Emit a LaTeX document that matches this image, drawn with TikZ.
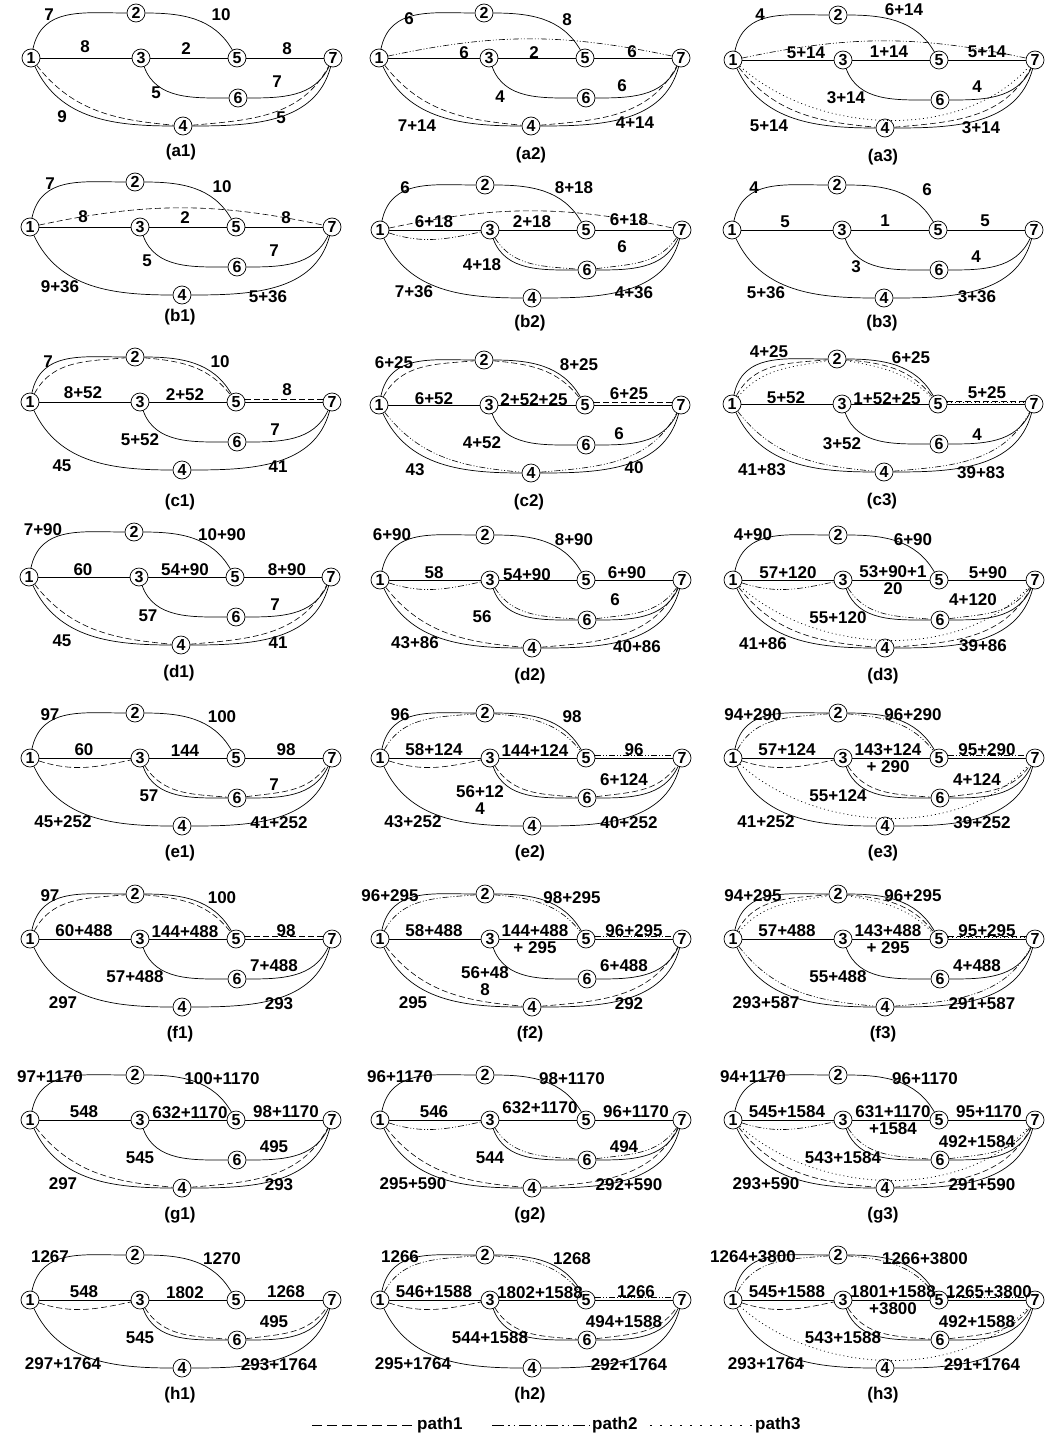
\documentclass[tikz,border=0pt]{standalone}
\usepackage{fontspec}
\setmainfont{Liberation Sans}
\begin{document}
\tikzset{
 vtx/.style={circle,draw,line width=0.7pt,minimum size=18pt,inner sep=0pt,font=\fontsize{16}{16}\selectfont\bfseries},
 lab/.style={font=\fontsize{17}{17}\selectfont\bfseries,inner sep=0pt,align=center},
 ptitle/.style={font=\fontsize{17}{17}\selectfont\bfseries,inner sep=0pt},
 edge/.style={line width=0.7pt},
 pa/.style={dash pattern=on 6pt off 3pt,line width=0.6pt},
 pb/.style={dash pattern=on 6pt off 2pt on 1pt off 2pt on 1pt off 2pt,line width=0.6pt},
 pc/.style={dash pattern=on 1pt off 3pt,line width=0.7pt},
 lga/.style={dash pattern=on 10pt off 5pt,line width=0.8pt},
 lgb/.style={dash pattern=on 12pt off 4pt on 1.5pt off 4pt on 1.5pt off 4pt,line width=0.8pt},
 lgc/.style={dash pattern=on 1.5pt off 8.5pt,line width=0.8pt},
}
\newcommand\basegraph[1]{%
 \node[vtx] (#1-1) at (0,0) {1};
 \node[vtx] (#1-2) at (105,45) {2};
 \node[vtx] (#1-3) at (110,0) {3};
 \node[vtx] (#1-5) at (206,0) {5};
 \node[vtx] (#1-7) at (302,0) {7};
 \node[vtx] (#1-6) at (207,-40) {6};
 \node[vtx] (#1-4) at (152,-68) {4};
 \draw[edge] (#1-1) to[out=78,in=180,looseness=1.1] (#1-2);
 \draw[edge] (#1-2) to[out=0,in=120] (#1-5);
 \draw[edge] (#1-1) -- (#1-3);
 \draw[edge] (#1-3) -- (#1-5);
 \draw[edge] (#1-5) -- (#1-7);
 \draw[edge] (#1-3) to[out=-70,in=180] (#1-6);
 \draw[edge] (#1-6) to[out=0,in=-115] (#1-7);
 \draw[edge] (#1-1) to[out=-65,in=180] (#1-4);
 \draw[edge] (#1-4) to[out=0,in=-105] (#1-7);
}
\newcommand\arcpath[2]{\draw[#1] (#2-1) to[out=12,in=168] (#2-7);}
\newcommand\toppath[2]{\draw[#1] (#2-1) to[out=62,in=185] (#2-2) to[out=-5,in=128] (#2-5); \draw[#1] ([yshift=3pt]#2-5.east) -- ([yshift=3pt]#2-7.west);}
\newcommand\toppathb[2]{\draw[#1] (#2-1) to[out=50,in=190] (#2-2) to[out=-10,in=135] (#2-5); \draw[#1] ([yshift=1.5pt]#2-5.east) -- ([yshift=1.5pt]#2-7.west);}
\newcommand\botpath[2]{\draw[#1] (#2-1) to[out=-52,in=175] (#2-4) to[out=5,in=-118] (#2-7);}
\newcommand\botpathb[2]{\draw[#1] (#2-1) to[out=-42,in=-132,looseness=0.9] (#2-7);}
\newcommand\midpath[2]{\draw[#1] (#2-1) to[out=-18,in=192] (#2-3) to[out=-58,in=175] (#2-6) to[out=8,in=-125] (#2-7);}
\begin{tikzpicture}[x=1pt,y=1pt]
\useasboundingbox (0,0) rectangle (1056,-1437);
% ---------------- row a
\begin{scope}[shift={(31,-58)}]
\basegraph{a1}
\node[lab] (a1-l12) at (18,43) {7};
\node[lab] (a1-l25) at (190,43) {10};
\node[lab] (a1-l13) at (54,11) {8};
\node[lab] (a1-l35) at (155,9) {2};
\node[lab] (a1-l57) at (256,9) {8};
\node[lab] (a1-l67) at (246,-24) {7};
\node[lab] (a1-l36) at (125,-35) {5};
\node[lab] (a1-l14) at (31,-59) {9};
\node[lab] (a1-l47) at (250,-60) {5};
\node[ptitle] (a1-t) at (150,-94) {(a1)};
\botpath{pa}{a1}
\end{scope}
\begin{scope}[shift={(379,-58)}]
\basegraph{a2}
\node[lab] (a2-l12) at (30,39) {6};
\node[lab] (a2-l25) at (188,38) {8};
\node[lab] (a2-l13) at (85,5) {6};
\node[lab] (a2-l35) at (155,5) {2};
\node[lab] (a2-l57) at (253,6) {6};
\node[lab] (a2-l67) at (243,-28) {6};
\node[lab] (a2-l36) at (121,-39) {4};
\node[lab] (a2-l14) at (38,-68) {7+14};
\node[lab] (a2-l47) at (256,-65) {4+14};
\node[ptitle] (a2-t) at (152,-97) {(a2)};
\arcpath{pb}{a2}
\botpath{pa}{a2}
\end{scope}
\begin{scope}[shift={(733,-60)}]
\basegraph{a3}
\node[lab] (a3-l12) at (27,45) {4};
\node[lab] (a3-l25) at (171,50) {6+14};
\node[lab] (a3-l13) at (73,7) {5+14};
\node[lab] (a3-l35) at (156,8) {1+14};
\node[lab] (a3-l57) at (254,8) {5+14};
\node[lab] (a3-l67) at (244,-27) {4};
\node[lab] (a3-l36) at (113,-38) {3+14};
\node[lab] (a3-l14) at (36,-66) {5+14};
\node[lab] (a3-l47) at (248,-68) {3+14};
\node[ptitle] (a3-t) at (150,-97) {(a3)};
\arcpath{pb}{a3}
\botpath{pa}{a3}
\botpathb{pc}{a3}
\end{scope}
% ---------------- row b
\begin{scope}[shift={(30,-227)}]
\basegraph{b1}
\node[lab] (b1-l12) at (20,43) {7};
\node[lab] (b1-l25) at (192,40) {10};
\node[lab] (b1-l13) at (53,10) {8};
\node[lab] (b1-l35) at (155,9) {2};
\node[lab] (b1-l57) at (256,9) {8};
\node[lab] (b1-l67) at (244,-24) {7};
\node[lab] (b1-l36) at (117,-34) {5};
\node[lab] (b1-l14) at (30,-60) {9+36};
\node[lab] (b1-l47) at (238,-70) {5+36};
\node[ptitle] (b1-t) at (150,-90) {(b1)};
\arcpath{pa}{b1}
\end{scope}
\begin{scope}[shift={(380,-230)}]
\basegraph{b2}
\node[lab] (b2-l12) at (25,42) {6};
\node[lab] (b2-l25) at (194,42) {8+18};
\node[lab] (b2-l13) at (54,8) {6+18};
\node[lab] (b2-l35) at (152,8) {2+18};
\node[lab] (b2-l57) at (249,10) {6+18};
\node[lab] (b2-l67) at (242,-17) {6};
\node[lab] (b2-l36) at (102,-35) {4+18};
\node[lab] (b2-l14) at (34,-62) {7+36};
\node[lab] (b2-l47) at (254,-63) {4+36};
\node[ptitle] (b2-t) at (150,-93) {(b2)};
\arcpath{pa}{b2}
\midpath{pb}{b2}
\end{scope}
\begin{scope}[shift={(732,-230)}]
\basegraph{b3}
\node[lab] (b3-l12) at (22,42) {4};
\node[lab] (b3-l25) at (195,40) {6};
\node[lab] (b3-l13) at (53,8) {5};
\node[lab] (b3-l35) at (153,9) {1};
\node[lab] (b3-l57) at (253,9) {5};
\node[lab] (b3-l67) at (244,-27) {4};
\node[lab] (b3-l36) at (124,-37) {3};
\node[lab] (b3-l14) at (34,-63) {5+36};
\node[lab] (b3-l47) at (245,-67) {3+36};
\node[ptitle] (b3-t) at (150,-93) {(b3)};
\end{scope}
% ---------------- row c
\begin{scope}[shift={(30,-402)}]
\basegraph{c1}
\node[lab] (c1-l12) at (18,40) {7};
\node[lab] (c1-l25) at (190,40) {10};
\node[lab] (c1-l13) at (53,9) {8+52};
\node[lab] (c1-l35) at (155,7) {2+52};
\node[lab] (c1-l57) at (257,12) {8};
\node[lab] (c1-l67) at (245,-28) {7};
\node[lab] (c1-l36) at (110,-38) {5+52};
\node[lab] (c1-l14) at (32,-64) {45};
\node[lab] (c1-l47) at (248,-65) {41};
\node[ptitle] (c1-t) at (150,-100) {(c1)};
\toppath{pa}{c1}
\end{scope}
\begin{scope}[shift={(379,-405)}]
\basegraph{c2}
\node[lab] (c2-l12) at (15,42) {6+25};
\node[lab] (c2-l25) at (200,40) {8+25};
\node[lab] (c2-l13) at (55,6) {6+52};
\node[lab] (c2-l35) at (155,5) {2+52+25};
\node[lab] (c2-l57) at (250,11) {6+25};
\node[lab] (c2-l67) at (240,-29) {6};
\node[lab] (c2-l36) at (103,-38) {4+52};
\node[lab] (c2-l14) at (36,-65) {43};
\node[lab] (c2-l47) at (255,-63) {40};
\node[ptitle] (c2-t) at (150,-97) {(c2)};
\toppath{pa}{c2}
\botpath{pb}{c2}
\end{scope}
\begin{scope}[shift={(732,-404)}]
\basegraph{c3}
\node[lab] (c3-l12) at (37,52) {4+25};
\node[lab] (c3-l25) at (179,46) {6+25};
\node[lab] (c3-l13) at (54,6) {5+52};
\node[lab] (c3-l35) at (155,5) {1+52+25};
\node[lab] (c3-l57) at (255,11) {5+25};
\node[lab] (c3-l67) at (245,-31) {4};
\node[lab] (c3-l36) at (110,-40) {3+52};
\node[lab] (c3-l14) at (30,-66) {41+83};
\node[lab] (c3-l47) at (249,-69) {39+83};
\node[ptitle] (c3-t) at (150,-97) {(c3)};
\toppath{pa}{c3}
\toppathb{pc}{c3}
\botpath{pb}{c3}
\end{scope}
% ---------------- row d
\begin{scope}[shift={(29,-577)}]
\basegraph{d1}
\node[lab] (d1-l12) at (14,47) {7+90};
\node[lab] (d1-l25) at (193,42) {10+90};
\node[lab] (d1-l13) at (54,7) {60};
\node[lab] (d1-l35) at (156,7) {54+90};
\node[lab] (d1-l57) at (258,7) {8+90};
\node[lab] (d1-l67) at (246,-28) {7};
\node[lab] (d1-l36) at (119,-39) {57};
\node[lab] (d1-l14) at (33,-64) {45};
\node[lab] (d1-l47) at (249,-66) {41};
\node[ptitle] (d1-t) at (150,-96) {(d1)};
\botpath{pa}{d1}
\end{scope}
\begin{scope}[shift={(380,-580)}]
\basegraph{d2}
\node[lab] (d2-l12) at (12,45) {6+90};
\node[lab] (d2-l25) at (194,40) {8+90};
\node[lab] (d2-l13) at (54,7) {58};
\node[lab] (d2-l35) at (147,5) {54+90};
\node[lab] (d2-l57) at (247,7) {6+90};
\node[lab] (d2-l67) at (235,-20) {6};
\node[lab] (d2-l36) at (102,-37) {56};
\node[lab] (d2-l14) at (35,-63) {43+86};
\node[lab] (d2-l47) at (257,-67) {40+86};
\node[ptitle] (d2-t) at (150,-96) {(d2)};
\midpath{pb}{d2}
\botpath{pa}{d2}
\end{scope}
\begin{scope}[shift={(733,-580)}]
\basegraph{d3}
\node[lab] (d3-l12) at (20,45) {4+90};
\node[lab] (d3-l25) at (180,40) {6+90};
\node[lab] (d3-l13) at (55,7) {57+120};
\node[lab] (d3-l35) at (160,0) {53+90+1\\20};
\node[lab] (d3-l57) at (255,7) {5+90};
\node[lab] (d3-l67) at (240,-20) {4+120};
\node[lab] (d3-l36) at (105,-38) {55+120};
\node[lab] (d3-l14) at (30,-64) {41+86};
\node[lab] (d3-l47) at (250,-66) {39+86};
\node[ptitle] (d3-t) at (150,-96) {(d3)};
\midpath{pb}{d3}
\botpath{pa}{d3}
\botpathb{pc}{d3}
\end{scope}
% ---------------- row e
\begin{scope}[shift={(30,-758)}]
\basegraph{e1}
\node[lab] (e1-l12) at (20,43) {97};
\node[lab] (e1-l25) at (192,41) {100};
\node[lab] (e1-l13) at (54,8) {60};
\node[lab] (e1-l35) at (155,7) {144};
\node[lab] (e1-l57) at (256,8) {98};
\node[lab] (e1-l67) at (244,-27) {7};
\node[lab] (e1-l36) at (119,-38) {57};
\node[lab] (e1-l14) at (33,-64) {45+252};
\node[lab] (e1-l47) at (249,-65) {41+252};
\node[ptitle] (e1-t) at (150,-95) {(e1)};
\midpath{pa}{e1}
\end{scope}
\begin{scope}[shift={(380,-758)}]
\basegraph{e2}
\node[lab] (e2-l12) at (20,43) {96};
\node[lab] (e2-l25) at (192,41) {98};
\node[lab] (e2-l13) at (54,8) {58+124};
\node[lab] (e2-l35) at (155,7) {144+124};
\node[lab] (e2-l57) at (254,8) {96};
\node[lab] (e2-l67) at (244,-22) {6+124};
\node[lab] (e2-l36) at (100,-42) {56+12\\4};
\node[lab] (e2-l14) at (33,-64) {43+252};
\node[lab] (e2-l47) at (249,-65) {40+252};
\node[ptitle] (e2-t) at (150,-95) {(e2)};
\toppath{pb}{e2}
\midpath{pa}{e2}
\end{scope}
\begin{scope}[shift={(733,-758)}]
\basegraph{e3}
\node[lab] (e3-l12) at (20,43) {94+290};
\node[lab] (e3-l25) at (180,43) {96+290};
\node[lab] (e3-l13) at (54,8) {57+124};
\node[lab] (e3-l35) at (155,0) {143+124\\+ 290};
\node[lab] (e3-l57) at (254,8) {95+290};
\node[lab] (e3-l67) at (244,-22) {4+124};
\node[lab] (e3-l36) at (105,-38) {55+124};
\node[lab] (e3-l14) at (33,-64) {41+252};
\node[lab] (e3-l47) at (249,-65) {39+252};
\node[ptitle] (e3-t) at (150,-95) {(e3)};
\toppath{pb}{e3}
\midpath{pa}{e3}
\botpathb{pc}{e3}
\end{scope}
% ---------------- row f
\begin{scope}[shift={(30,-939)}]
\basegraph{f1}
\node[lab] (f1-l12) at (20,43) {97};
\node[lab] (f1-l25) at (192,41) {100};
\node[lab] (f1-l13) at (54,8) {60+488};
\node[lab] (f1-l35) at (155,7) {144+488};
\node[lab] (f1-l57) at (256,8) {98};
\node[lab] (f1-l67) at (244,-27) {7+488};
\node[lab] (f1-l36) at (105,-38) {57+488};
\node[lab] (f1-l14) at (33,-64) {297};
\node[lab] (f1-l47) at (249,-65) {293};
\node[ptitle] (f1-t) at (150,-95) {(f1)};
\toppath{pa}{f1}
\end{scope}
\begin{scope}[shift={(380,-939)}]
\basegraph{f2}
\node[lab] (f2-l12) at (10,43) {96+295};
\node[lab] (f2-l25) at (192,41) {98+295};
\node[lab] (f2-l13) at (54,8) {58+488};
\node[lab] (f2-l35) at (155,0) {144+488\\+ 295};
\node[lab] (f2-l57) at (254,8) {96+295};
\node[lab] (f2-l67) at (244,-27) {6+488};
\node[lab] (f2-l36) at (105,-42) {56+48\\8};
\node[lab] (f2-l14) at (33,-64) {295};
\node[lab] (f2-l47) at (249,-65) {292};
\node[ptitle] (f2-t) at (150,-95) {(f2)};
\toppath{pb}{f2}
\botpath{pa}{f2}
\end{scope}
\begin{scope}[shift={(733,-939)}]
\basegraph{f3}
\node[lab] (f3-l12) at (20,43) {94+295};
\node[lab] (f3-l25) at (180,43) {96+295};
\node[lab] (f3-l13) at (54,8) {57+488};
\node[lab] (f3-l35) at (155,0) {143+488\\+ 295};
\node[lab] (f3-l57) at (254,8) {95+295};
\node[lab] (f3-l67) at (244,-27) {4+488};
\node[lab] (f3-l36) at (105,-38) {55+488};
\node[lab] (f3-l14) at (33,-64) {293+587};
\node[lab] (f3-l47) at (249,-65) {291+587};
\node[ptitle] (f3-t) at (150,-95) {(f3)};
\toppath{pa}{f3}
\toppathb{pc}{f3}
\botpath{pb}{f3}
\end{scope}
% ---------------- row g
\begin{scope}[shift={(30,-1120)}]
\basegraph{g1}
\node[lab] (g1-l12) at (20,43) {97+1170};
\node[lab] (g1-l25) at (192,41) {100+1170};
\node[lab] (g1-l13) at (54,8) {548};
\node[lab] (g1-l35) at (160,7) {632+1170};
\node[lab] (g1-l57) at (256,8) {98+1170};
\node[lab] (g1-l67) at (244,-27) {495};
\node[lab] (g1-l36) at (110,-38) {545};
\node[lab] (g1-l14) at (33,-64) {297};
\node[lab] (g1-l47) at (249,-65) {293};
\node[ptitle] (g1-t) at (150,-95) {(g1)};
\botpath{pa}{g1}
\end{scope}
\begin{scope}[shift={(380,-1120)}]
\basegraph{g2}
\node[lab] (g2-l12) at (20,43) {96+1170};
\node[lab] (g2-l25) at (192,41) {98+1170};
\node[lab] (g2-l13) at (54,8) {546};
\node[lab] (g2-l35) at (160,12) {632+1170};
\node[lab] (g2-l57) at (256,8) {96+1170};
\node[lab] (g2-l67) at (244,-27) {494};
\node[lab] (g2-l36) at (110,-38) {544};
\node[lab] (g2-l14) at (33,-64) {295+590};
\node[lab] (g2-l47) at (249,-65) {292+590};
\node[ptitle] (g2-t) at (150,-95) {(g2)};
\midpath{pb}{g2}
\botpath{pa}{g2}
\end{scope}
\begin{scope}[shift={(733,-1120)}]
\basegraph{g3}
\node[lab] (g3-l12) at (20,43) {94+1170};
\node[lab] (g3-l25) at (192,41) {96+1170};
\node[lab] (g3-l13) at (54,8) {545+1584};
\node[lab] (g3-l35) at (160,0) {631+1170\\+1584};
\node[lab] (g3-l57) at (256,8) {95+1170};
\node[lab] (g3-l67) at (244,-22) {492+1584};
\node[lab] (g3-l36) at (110,-38) {543+1584};
\node[lab] (g3-l14) at (33,-64) {293+590};
\node[lab] (g3-l47) at (249,-65) {291+590};
\node[ptitle] (g3-t) at (150,-95) {(g3)};
\midpath{pb}{g3}
\botpath{pa}{g3}
\botpathb{pc}{g3}
\end{scope}
% ---------------- row h
\begin{scope}[shift={(30,-1300)}]
\basegraph{h1}
\node[lab] (h1-l12) at (20,43) {1267};
\node[lab] (h1-l25) at (192,41) {1270};
\node[lab] (h1-l13) at (54,8) {548};
\node[lab] (h1-l35) at (155,7) {1802};
\node[lab] (h1-l57) at (256,8) {1268};
\node[lab] (h1-l67) at (244,-22) {495};
\node[lab] (h1-l36) at (110,-38) {545};
\node[lab] (h1-l14) at (33,-64) {297+1764};
\node[lab] (h1-l47) at (249,-65) {293+1764};
\node[ptitle] (h1-t) at (150,-95) {(h1)};
\midpath{pa}{h1}
\end{scope}
\begin{scope}[shift={(380,-1300)}]
\basegraph{h2}
\node[lab] (h2-l12) at (20,43) {1266};
\node[lab] (h2-l25) at (192,41) {1268};
\node[lab] (h2-l13) at (54,8) {546+1588};
\node[lab] (h2-l35) at (160,7) {1802+1588};
\node[lab] (h2-l57) at (256,8) {1266};
\node[lab] (h2-l67) at (244,-22) {494+1588};
\node[lab] (h2-l36) at (110,-38) {544+1588};
\node[lab] (h2-l14) at (33,-64) {295+1764};
\node[lab] (h2-l47) at (249,-65) {292+1764};
\node[ptitle] (h2-t) at (150,-95) {(h2)};
\toppath{pb}{h2}
\midpath{pa}{h2}
\end{scope}
\begin{scope}[shift={(733,-1300)}]
\basegraph{h3}
\node[lab] (h3-l12) at (20,43) {1264+3800};
\node[lab] (h3-l25) at (192,41) {1266+3800};
\node[lab] (h3-l13) at (54,8) {545+1588};
\node[lab] (h3-l35) at (160,0) {1801+1588\\+3800};
\node[lab] (h3-l57) at (256,8) {1265+3800};
\node[lab] (h3-l67) at (244,-22) {492+1588};
\node[lab] (h3-l36) at (110,-38) {543+1588};
\node[lab] (h3-l14) at (33,-64) {293+1764};
\node[lab] (h3-l47) at (249,-65) {291+1764};
\node[ptitle] (h3-t) at (150,-95) {(h3)};
\toppath{pb}{h3}
\midpath{pa}{h3}
\botpathb{pc}{h3}
\end{scope}
% ---------------- legend
\coordinate (lg1a) at (312,-1425);
\coordinate (lg1b) at (415,-1425);
\node[ptitle,anchor=west] (lg1t) at (417,-1425) {path1};
\coordinate (lg2a) at (492,-1425);
\coordinate (lg2b) at (590,-1425);
\node[ptitle,anchor=west] (lg2t) at (592,-1425) {path2};
\coordinate (lg3a) at (650,-1425);
\coordinate (lg3b) at (753,-1425);
\node[ptitle,anchor=west] (lg3t) at (755,-1425) {path3};
\draw[lga] (lg1a) -- (lg1b);
\draw[lgb] (lg2a) -- (lg2b);
\draw[lgc] (lg3a) -- (lg3b);
\end{tikzpicture}
\end{document}
